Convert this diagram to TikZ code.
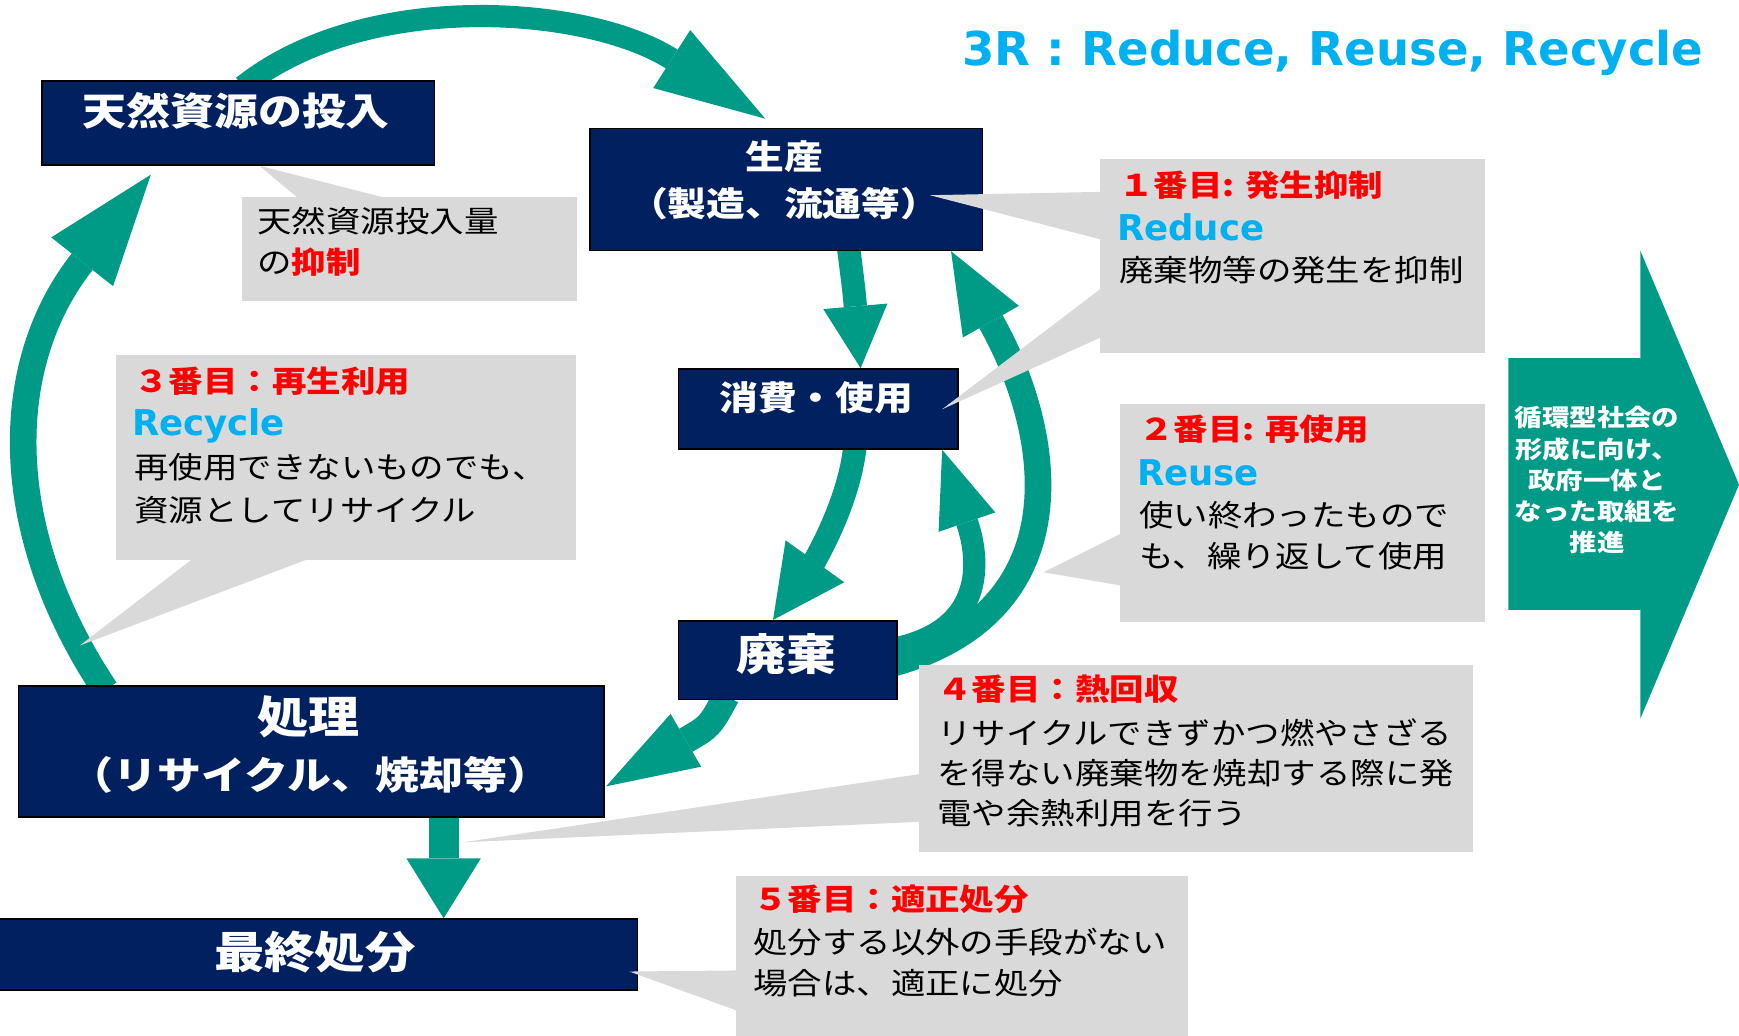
\documentclass[tikz,border=0pt]{standalone}
\usepackage{fontspec}
\usetikzlibrary{arrows.meta,calc}
\newfontfamily\jpf{Noto Sans CJK JP}[FakeStretch=1.15]
\newfontfamily\latf{DejaVu Sans}
\definecolor{navy3R}{HTML}{002060}
\definecolor{teal3R}{HTML}{009B87}
\definecolor{gray3R}{HTML}{D9D9D9}
\definecolor{red3R}{HTML}{FF0000}
\definecolor{cyan3R}{HTML}{00B0F0}
\tikzset{
  navybox/.style={draw=black, line width=1.5pt, fill=navy3R, inner sep=0pt, anchor=north west},
  callout/.style={fill=gray3R, draw=none, inner sep=0pt, anchor=north west},
  wedge/.style={fill=gray3R, draw=none},
  flow/.style n args={3}{draw=teal3R, line width=#1pt, -{Triangle[width=#2pt, length=#3pt, line width=0pt]}},
  boxtxt/.style={text=white, inner sep=0pt, anchor=base, font=\jpf\bfseries\fontsize{#1}{#1}\selectfont},
  bodytxt/.style={text=black, inner sep=0pt, anchor=base west, font=\jpf\fontsize{27}{32}\selectfont},
  redtxt/.style={text=red3R, inner sep=0pt, anchor=base west, font=\jpf\bfseries\fontsize{27}{32}\selectfont},
  cyantxt/.style={text=cyan3R, inner sep=0pt, anchor=base west, font=\latf\bfseries\fontsize{32}{36}\selectfont},
  goaltxt/.style={text=white, inner sep=0pt, anchor=base, font=\jpf\bfseries\fontsize{21.5}{25}\selectfont},
  titletxt/.style={text=cyan3R, inner sep=0pt, anchor=base east, font=\latf\bfseries\fontsize{42}{46}\selectfont}
}
\begin{document}
\begin{tikzpicture}[x=1pt,y=-1pt]
\useasboundingbox (0,0) rectangle (1568,934);
\fill[white] (0,0) rectangle (1568,934);

% box shapes (placed first so arrows can refer to them; drawn again on top)
\path (37,72) node[navybox, minimum width=354pt, minimum height=76pt, draw=none, fill=none] (nat) {};
\path (531,115) node[navybox, minimum width=354pt, minimum height=110pt, draw=none, fill=none] (prod) {};
\path (611,332) node[navybox, minimum width=252pt, minimum height=72pt, draw=none, fill=none] (use) {};
\path (611,559) node[navybox, minimum width=197pt, minimum height=71pt, draw=none, fill=none] (haiki) {};
\path (16,618) node[navybox, minimum width=528pt, minimum height=118pt, draw=none, fill=none] (shori) {};
\path (-3,828) node[navybox, minimum width=577pt, minimum height=64pt, draw=none, fill=none] (final) {};

% teal flow arrows
\draw[flow={20}{62}{100}] ($(nat.north west)+(182,6)$) .. controls (330,-10) and (530,5) .. ($(prod.north west)+(159,-8)$);
\draw[flow={21}{58}{56}] ($(prod.south west)+(234,-4)$) .. controls (770,262) .. ($(use.north west)+(165,0)$);
\draw[flow={21}{65}{65}] ($(use.south west)+(160,-4)$) .. controls (765,460) and (727,517) .. ($(haiki.north west)+(86,0)$);
\draw[flow={20}{54}{69}] ($(haiki.north east)+(-4,26)$) .. controls (905,565) and (875,480) .. ($(use.south east)+(-15,0)$);
\draw[flow={24}{58}{73}] ($(haiki.north east)+(-4,39)$) .. controls (975,550) and (950,390) .. ($(prod.south east)+(-29,0)$);
\draw[flow={24}{55}{83}] ($(haiki.south west)+(44,-4)$) .. controls (640,655) .. ($(shori.north east)+(1,91)$);
\draw[flow={27}{67}{54}] ($(shori.south west)+(384,-4)$) -- ($(final.north west)+(403,0)$);
\draw[flow={24}{71}{100}] ($(shori.north west)+(79,4)$) .. controls (0,480) and (0,330) .. ($(nat.south west)+(99,8)$);

% navy boxes
\node[navybox, minimum width=354pt, minimum height=76pt] (natb) at (nat.north west) {};
\node[navybox, minimum width=354pt, minimum height=110pt] (prodb) at (prod.north west) {};
\node[navybox, minimum width=252pt, minimum height=72pt] (useb) at (use.north west) {};
\node[navybox, minimum width=197pt, minimum height=71pt] (haikib) at (haiki.north west) {};
\node[navybox, minimum width=528pt, minimum height=118pt] (shorib) at (shori.north west) {};
\node[navybox, minimum width=577pt, minimum height=64pt] (finalb) at (final.north west) {};

% big goal arrow
\fill[teal3R] (1360,323) -- (1479,323) -- (1479,226) -- (1568,437) -- (1479,648) -- (1479,550) -- (1360,550) -- cycle;

% callouts
\node[callout, minimum width=302pt, minimum height=94pt] (calA) at (218,177) {};
\node[callout, minimum width=347pt, minimum height=175pt] (calB) at (992,143) {};
\node[callout, minimum width=415pt, minimum height=185pt] (calC) at (104,320) {};
\node[callout, minimum width=329pt, minimum height=197pt] (calD) at (1010,364) {};
\node[callout, minimum width=500pt, minimum height=169pt] (calE) at (828,599) {};
\node[callout, minimum width=408pt, minimum height=150pt] (calF) at (663,790) {};

\fill[wedge] ($(calA.north west)+(50,1)$) -- ($(calA.north west)+(128,1)$) -- ($(nat.south west)+(197,0)$) -- cycle;
\fill[wedge] ($(calB.north west)+(1,30)$) -- ($(calB.north west)+(1,73)$) -- ($(prod.north east)+(-48,61)$) -- cycle;
\fill[wedge] ($(calB.north west)+(1,117)$) -- ($(calB.north west)+(1,161)$) -- ($(use.north east)+(-15,37)$) -- cycle;
\fill[wedge] ($(calC.south west)+(69,-1)$) -- ($(calC.south west)+(173,-1)$) -- ($(shori.north west)+(56,-36)$) -- cycle;
\fill[wedge] ($(calD.north west)+(1,117)$) -- ($(calD.north west)+(1,164)$) -- ($(calD.north west)+(-69,152)$) -- cycle;
\fill[wedge] ($(calE.north west)+(1,99)$) -- ($(calE.north west)+(1,142)$) -- ($(shori.south east)+(-128,22)$) -- cycle;
\fill[wedge] ($(calF.north west)+(1,85)$) -- ($(calF.north west)+(1,121)$) -- ($(final.north east)+(-8,48)$) -- cycle;

% title
\node[titletxt] (title) at (1536,59) {3R : Reduce, Reuse, Recycle};

% box texts
\node[boxtxt=34.4] (tnat) at (213,113) {天然資源の投入};
\node[boxtxt=30.4] (tprod1) at (707,152.5) {生産};
\node[boxtxt=30.4] (tprod2) at (707,195) {（製造、流通等）};
\node[boxtxt=30.4] (tuse) at (736,370) {消費・使用};
\node[boxtxt=39] (thaiki) at (709,605) {廃棄};
\node[boxtxt=40] (tshori1) at (278,661.5) {処理};
\node[boxtxt=34.5] (tshori2) at (280,712) {（リサイクル、焼却等）};
\node[boxtxt=39.5] (tfinal) at (284,873.5) {最終処分};

% callout A
\node[bodytxt] (a1) at (232,210) {天然資源投入量};
\node[bodytxt] (a2) at (232,247) {の\textcolor{red3R}{\bfseries 抑制}};
% callout B
\node[redtxt] (b0) at (1009,177) {１番目: 発生抑制};
\node[cyantxt] (b1) at (1007,217) {Reduce};
\node[bodytxt] (b2) at (1009,254) {廃棄物等の発生を抑制};
% callout C
\node[redtxt] (c0) at (121,354) {３番目：再生利用};
\node[cyantxt] (c1) at (119,393) {Recycle};
\node[bodytxt] (c2) at (121,431) {再使用できないものでも、};
\node[bodytxt] (c3) at (121,470) {資源としてリサイクル};
% callout D
\node[redtxt] (d0) at (1027,397) {２番目: 再使用};
\node[cyantxt] (d1) at (1025,438) {Reuse};
\node[bodytxt] (d2) at (1027,475) {使い終わったもので};
\node[bodytxt] (d3) at (1027,512) {も、繰り返して使用};
% callout E
\node[redtxt] (e0) at (845,632) {４番目：熱回収};
\node[bodytxt] (e1) at (845,671) {リサイクルできずかつ燃やさざる};
\node[bodytxt] (e2) at (845,707) {を得ない廃棄物を焼却する際に発};
\node[bodytxt] (e3) at (845,743) {電や余熱利用を行う};
% callout F
\node[redtxt] (f0) at (679,821) {５番目：適正処分};
\node[bodytxt] (f1) at (679,860) {処分する以外の手段がない};
\node[bodytxt] (f2) at (679,897) {場合は、適正に処分};

% goal arrow text
\node[goaltxt] (g1) at (1440,385) {循環型社会の};
\node[goaltxt] (g2) at (1440,413) {形成に向け、};
\node[goaltxt] (g3) at (1440,441) {政府一体と};
\node[goaltxt] (g4) at (1440,469) {なった取組を};
\node[goaltxt] (g5) at (1440,497) {推進};
\end{tikzpicture}
\end{document}
